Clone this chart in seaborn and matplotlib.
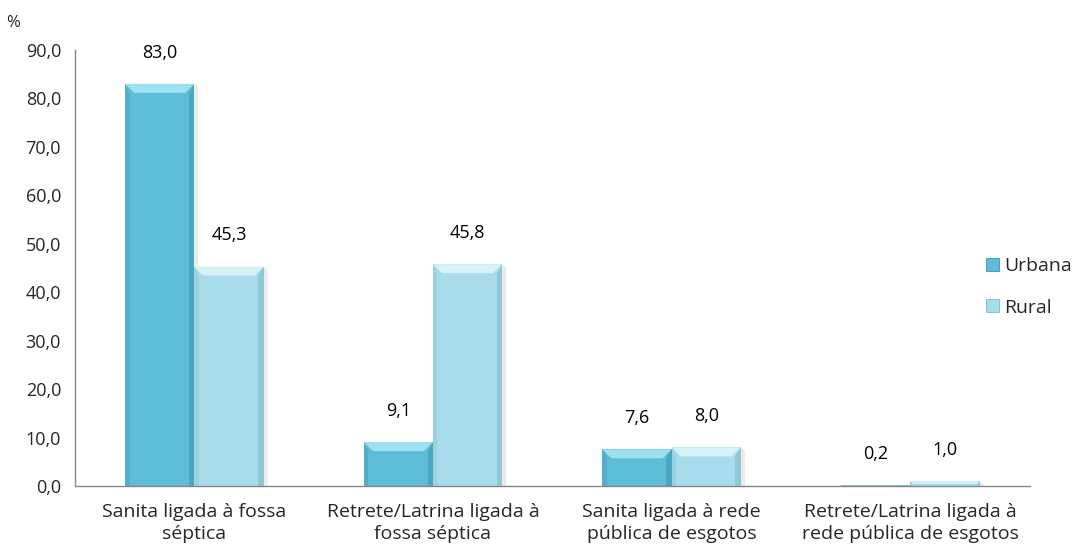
import matplotlib
matplotlib.use("Agg")
import matplotlib.pyplot as plt
from matplotlib.patches import Polygon, Patch
import seaborn as sns
import pandas as pd

categories = [
    "Sanita ligada à fossa\nséptica",
    "Retrete/Latrina ligada à\nfossa séptica",
    "Sanita ligada à rede\npública de esgotos",
    "Retrete/Latrina ligada à\nrede pública de esgotos",
]
urbana = [83.0, 9.1, 7.6, 0.2]
rural = [45.3, 45.8, 8.0, 1.0]
series = ["Urbana", "Rural"]
y_ticks = [0, 10, 20, 30, 40, 50, 60, 70, 80, 90]

colors = {"Urbana": "#5dbcd6", "Rural": "#a9dcea"}
light = {"Urbana": "#9fe0f0", "Rural": "#d6f2f9"}
dark = {"Urbana": "#3f93ab", "Rural": "#7fb9c9"}

df = pd.DataFrame({
    "categoria": categories * 2,
    "zona": ["Urbana"] * len(categories) + ["Rural"] * len(categories),
    "valor": urbana + rural,
})

sns.set_theme(style="white")
plt.rcParams["font.family"] = ["Open Sans", "DejaVu Sans"]
FS_X = 14
FS_Y = 13
FS_VAL = 13
FS_LEG = 14

fig = plt.figure(figsize=(10.8, 5.55), dpi=100)
ax = fig.add_axes([0.0694, 0.124, 0.884, 0.786])

sns.barplot(data=df, x="categoria", y="valor", hue="zona", order=categories,
            hue_order=series, palette=colors, width=0.58, ax=ax,
            legend=False, saturation=1, linewidth=0, errorbar=None)

ax.set_xlim(-0.5, len(categories) - 0.5)
ax.set_ylim(0, 90)
ax.set_yticks(y_ticks)
ax.set_yticklabels([f"{v:.1f}".replace(".", ",") for v in y_ticks], fontsize=FS_Y)
ax.set_xlabel("")
ax.set_ylabel("")
ax.tick_params(axis="x", length=0, labelsize=FS_X, pad=12)
for lbl in ax.get_xticklabels():
    lbl.set_linespacing(1.3)
ax.set_xticks([i - 0.5 for i in range(len(categories) + 1)], minor=True)
ax.tick_params(axis="x", which="minor", length=6, width=1, color="#868686", direction="out")
ax.tick_params(axis="y", length=6, width=1, color="#868686", direction="out", pad=4)
for s in ["top", "right"]:
    ax.spines[s].set_visible(False)
for s in ["left", "bottom"]:
    ax.spines[s].set_color("#868686")
    ax.spines[s].set_linewidth(1)

# bevelled look on each bar, derived from the bar geometry
x_per_px = (len(categories)) / (ax.get_position().width * fig.get_figwidth() * fig.dpi)
y_per_px = 90 / (ax.get_position().height * fig.get_figheight() * fig.dpi)
bars = ax.patches
zones = ["Urbana"] * len(categories) + ["Rural"] * len(categories)
values = urbana + rural
for bar, zone, val in zip(bars, zones, values):
    x0 = bar.get_x()
    w = bar.get_width()
    h = bar.get_height()
    x1 = x0 + w
    bpx = min(9, (h / y_per_px) / 2.0)
    bx = bpx * x_per_px
    by = bpx * y_per_px
    # soft shadow to the right
    ax.add_patch(Polygon([(x1, 0), (x1 + 4 * x_per_px, 0), (x1 + 4 * x_per_px, max(h - 3 * y_per_px, 0)), (x1, h)],
                         closed=True, facecolor="#000000", alpha=0.08, linewidth=0, zorder=bar.get_zorder() - 0.1))
    if h > 0:
        # top bevel (highlight)
        ax.add_patch(Polygon([(x0, h), (x1, h), (x1 - bx, h - by), (x0 + bx, h - by)],
                             closed=True, facecolor=light[zone], linewidth=0, zorder=bar.get_zorder() + 0.1))
        # right bevel (shade)
        ax.add_patch(Polygon([(x1, h), (x1, 0), (x1 - bx * 0.6, 0), (x1 - bx * 0.6, h - by)],
                             closed=True, facecolor=dark[zone], alpha=0.55, linewidth=0, zorder=bar.get_zorder() + 0.1))
        # left bevel
        ax.add_patch(Polygon([(x0, h), (x0, 0), (x0 + bx * 0.5, 0), (x0 + bx * 0.5, h - by)],
                             closed=True, facecolor=dark[zone], alpha=0.3, linewidth=0, zorder=bar.get_zorder() + 0.1))
    ax.annotate(f"{val:.1f}".replace(".", ","), (x0 + w / 2, h), xytext=(0, 16),
                textcoords="offset points", ha="center", va="bottom", fontsize=FS_VAL, color="#000000")

fig.text(0.006, 0.945, "%", fontsize=FS_Y - 1, ha="left", va="bottom")

handles = [Patch(facecolor=colors[s], edgecolor=dark[s], linewidth=0.6) for s in series]
fig.legend(handles, series, loc="center left", bbox_to_anchor=(0.913, 0.483), frameon=False,
           fontsize=FS_LEG, handlelength=0.65, handleheight=0.65, handletextpad=0.3, labelspacing=1.2,
           borderaxespad=0, borderpad=0)

fig.savefig("out.png", dpi=100)
